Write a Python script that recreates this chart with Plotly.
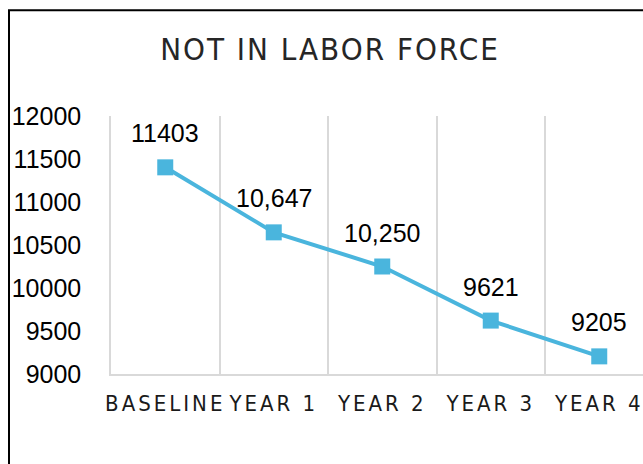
import plotly.graph_objects as go

categories = ["BASELINE", "YEAR 1", "YEAR 2", "YEAR 3", "YEAR 4"]
values = [11403, 10647, 10250, 9621, 9205]
value_labels = ["11403", "10,647", "10,250", "9621", "9205"]
y_ticks = [9000, 9500, 10000, 10500, 11000, 11500, 12000]
title_text = "NOT IN LABOR FORCE"

W, H = 643, 464
L, R, T, B = 111, 0, 115.5, 90
plot_w = W - L - R
plot_h = H - T - B
cat_w = 108.5
line_color = "#4AB5DD"
narrow = "DejaVu Sans Condensed, Liberation Sans Narrow, Arial Narrow, Liberation Sans"

fig = go.Figure()
fig.add_trace(go.Scatter(
    x=categories, y=values, mode="lines+markers",
    line=dict(color=line_color, width=4),
    marker=dict(symbol="square", size=16, color=line_color),
    hoverinfo="skip", cliponaxis=False,
))

for c, v, t in zip(categories, values, value_labels):
    fig.add_annotation(x=c, y=v, text=t, showarrow=False, yshift=34,
                       yanchor="middle", xanchor="center",
                       font=dict(family="Liberation Sans, Arial", size=25, color="#000000"))

# outer chart border (left and top visible; right/bottom beyond the image)
px = lambda p: (p - L) / plot_w
py = lambda p: (H - B - p) / plot_h
fig.add_shape(type="rect", xref="paper", yref="paper",
              x0=px(9), x1=px(W + 30), y0=py(H + 30), y1=py(9.5),
              line=dict(color="#000000", width=2), fillcolor="rgba(0,0,0,0)")

fig.update_layout(
    width=W, height=H,
    margin=dict(l=L, r=R, t=T, b=B, pad=0, autoexpand=False),
    paper_bgcolor="white", plot_bgcolor="white",
    showlegend=False,
    title=dict(text=title_text, x=330 / W, xref="container", xanchor="center",
               y=1 - 48.7 / H, yref="container", yanchor="middle",
               font=dict(family=narrow, size=31, color="#262626")),
    xaxis=dict(
        type="category", range=[-0.5, -0.5 + plot_w / cat_w], automargin=False,
        tickson="boundaries", ticks="", showgrid=True, gridcolor="#D9D9D9", gridwidth=1.5,
        showline=True, linecolor="#D9D9D9", linewidth=2, tickangle=0,
        tickfont=dict(family=narrow, size=22, color="#1a1a1a"),
        ticklabelstandoff=9, fixedrange=True,
    ),
    yaxis=dict(
        range=[9000, 12000], tickvals=y_ticks, ticktext=[str(v) for v in y_ticks],
        showgrid=False, zeroline=False, showline=True, linecolor="#D9D9D9", linewidth=1.5,
        ticks="", automargin=False,
        tickfont=dict(family="Liberation Sans, Arial", size=25, color="#000000"),
        ticklabelstandoff=23, fixedrange=True,
    ),
)

post = """
(function(){
  function sp(){
    document.querySelectorAll('.gtitle').forEach(function(e){e.style.letterSpacing='2px';});
    document.querySelectorAll('.xtick text').forEach(function(e){e.style.letterSpacing='3px';});
  }
  sp(); setTimeout(sp, 50);
})();
"""
fig.write_html("out.html", include_plotlyjs=True, config={"displayModeBar": False}, post_script=post)
